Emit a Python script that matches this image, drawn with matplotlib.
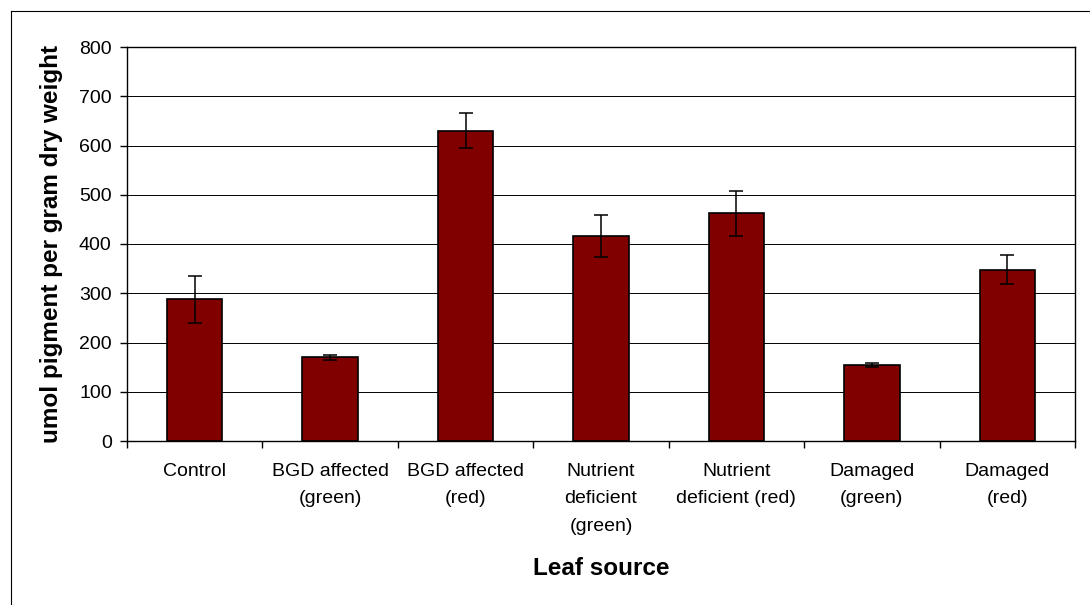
import numpy as np
import matplotlib.pyplot as plt
from matplotlib.lines import Line2D

# Leaf pigment content by leaf source
categories = ["Control", "BGD affected\n(green)", "BGD affected\n(red)",
              "Nutrient\ndeficient\n(green)", "Nutrient\ndeficient (red)",
              "Damaged\n(green)", "Damaged\n(red)"]
pigment = [288, 170, 630, 416, 462, 155, 348]
pigment_err = [48, 5, 36, 42, 45, 4, 30]
yticks = [0, 100, 200, 300, 400, 500, 600, 700, 800]

plt.rcParams['font.family'] = ['Liberation Sans', 'DejaVu Sans']

W, H = 1090, 605
fig = plt.figure(figsize=(W/100, H/100), dpi=100)
ax = fig.add_axes([127/W, 1 - 441/H, (1075-127)/W, (441-47)/H])

x = np.arange(len(categories))
ax.bar(x, pigment, width=0.41, color='#800000', edgecolor='black',
       linewidth=1.2, zorder=3)
ax.errorbar(x, pigment, yerr=pigment_err, fmt='none', ecolor='black',
            elinewidth=1.1, capsize=5, capthick=1.1, zorder=4)

ax.set_xlim(-0.5, len(categories) - 0.5)
ax.set_ylim(0, 800)
ax.set_yticks(yticks)
ax.yaxis.grid(True, color='black', linewidth=0.7, zorder=0)
ax.set_axisbelow(True)

#category labels in the middle, tick marks between categories
ax.set_xticks(x)
ax.set_xticklabels(categories, fontsize=14, linespacing=1.78)
ax.set_xticks(np.arange(-0.5, len(categories), 1), minor=True)
ax.tick_params(axis='x', which='major', length=0, pad=16)
ax.tick_params(axis='x', which='minor', length=5, width=1, direction='out')
ax.tick_params(axis='y', labelsize=14, length=5, width=1, direction='out', pad=6)

for s in ax.spines.values():
    s.set_color('black')
    s.set_linewidth(1.0)

ax.set_ylabel("umol pigment per gram dry weight", fontsize=17.5,
              fontweight='bold')
ax.yaxis.set_label_coords((63-127)/948, 0.5)
ax.set_xlabel("Leaf source", fontsize=17.5, fontweight='bold')
ax.xaxis.set_label_coords(0.5, -(557-441)/394)

#outer chart frame (only top and left edges fall inside the image)
fig.add_artist(Line2D([10.5/W, 10.5/W], [0, 1 - 10.5/H], color='black',
                      linewidth=0.8))
fig.add_artist(Line2D([10.5/W, 1], [1 - 10.5/H, 1 - 10.5/H], color='black',
                      linewidth=0.8))

fig.savefig("out.png", dpi=100)
